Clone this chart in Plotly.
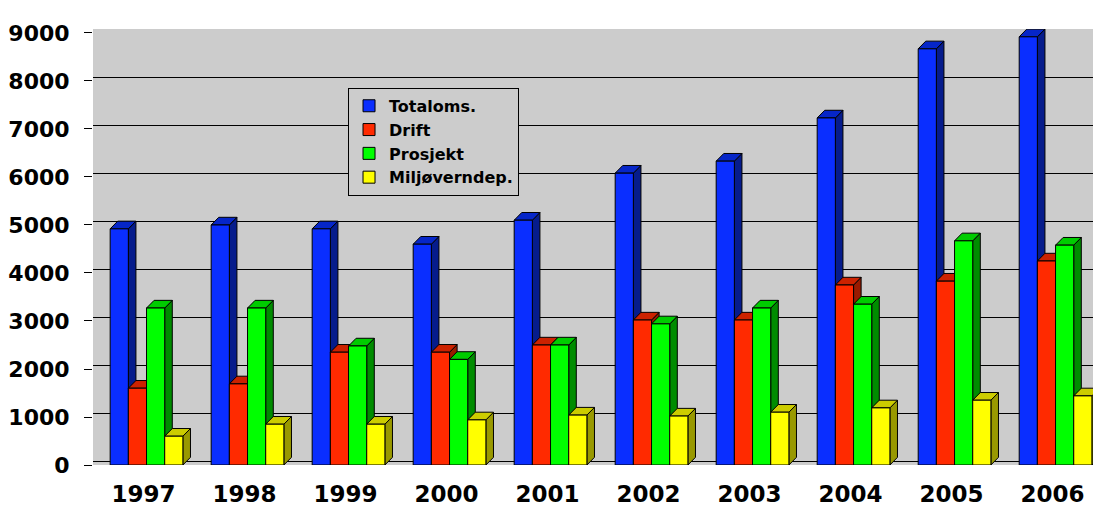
import plotly.graph_objects as go

years = ["1997", "1998", "1999", "2000", "2001", "2002", "2003", "2004", "2005", "2006"]
totaloms = [4920, 5000, 4920, 4600, 5100, 6080, 6330, 7230, 8670, 8920]
drift = [1600, 1690, 2350, 2350, 2500, 3020, 3020, 3750, 3830, 4250]
prosjekt = [3270, 3270, 2480, 2200, 2500, 2940, 3270, 3350, 4670, 4580]
miljo = [600, 850, 850, 940, 1040, 1020, 1100, 1190, 1350, 1440]
y_ticks = [0, 1000, 2000, 3000, 4000, 5000, 6000, 7000, 8000, 9000]

series = [
    ("Totaloms.", totaloms, "#0A2EFF", "#0626C8", "#061C8C"),
    ("Drift", drift, "#FF2A00", "#CC2200", "#991A00"),
    ("Prosjekt", prosjekt, "#00FF00", "#00CC00", "#008C00"),
    ("Miljøverndep.", miljo, "#FFFF00", "#CCCC00", "#999900"),
]

FONT = "Arial, Liberation Sans, sans-serif"
TICKFONT = "DejaVu Sans, Verdana, sans-serif"
W = 0.18
starts = [-0.33, -0.15, 0.03, 0.21]
DX = 0.075
DY = 160

xs = list(range(len(years)))
fig = go.Figure()

for k, (name, vals, front, top, side) in enumerate(series):
    off = starts[k]
    sx, sy, tx, ty = [], [], [], []
    for i, v in enumerate(vals):
        l = i + off
        r = l + W
        sx += [r, r + DX, r + DX, r, r, None]
        sy += [0, DY, v + DY, v, 0, None]
        tx += [l, r, r + DX, l + DX, l, None]
        ty += [v, v, v + DY, v + DY, v, None]
    fig.add_trace(go.Scatter(x=sx, y=sy, fill="toself", fillcolor=side, mode="lines",
                             line=dict(color="black", width=1), showlegend=False,
                             hoverinfo="skip", zorder=3 * k))
    fig.add_trace(go.Scatter(x=tx, y=ty, fill="toself", fillcolor=top, mode="lines",
                             line=dict(color="black", width=1), showlegend=False,
                             hoverinfo="skip", zorder=3 * k + 1))
    fig.add_trace(go.Bar(x=xs, y=vals, width=W, offset=off, name=name,
                         marker=dict(color=front, line=dict(color="black", width=1)),
                         zorder=3 * k + 2))

# page has an 8px body margin, so the figure is 16px smaller and margins shifted
fig.update_layout(
    width=1093, height=503,
    margin=dict(l=85, r=0, t=21, b=46, autoexpand=False),
    paper_bgcolor="white",
    plot_bgcolor="#CCCCCC",
    barmode="overlay",
    font=dict(family=FONT, color="black"),
    legend=dict(x=0.253, y=0.865, xanchor="left", yanchor="top",
                bgcolor="#CCCCCC", bordercolor="black", borderwidth=1,
                font=dict(family=TICKFONT, size=16, color="black", weight="bold"),
                traceorder="normal", entrywidth=150, entrywidthmode="pixels"),
    xaxis=dict(range=[-0.5, 9.48], tickvals=xs, ticktext=years, showgrid=False,
               zeroline=False, showline=True, linecolor="#808080", linewidth=3,
               tickfont=dict(family=TICKFONT, size=23, color="black", weight="bold"),
               ticks="", ticklabelstandoff=6, automargin=False),
    yaxis=dict(range=[0, 9083], tickvals=y_ticks, showgrid=False, zeroline=False,
               showline=True, linecolor="black", linewidth=1,
               ticks="outside", ticklen=8, tickcolor="black", automargin=False,
               ticklabelstandoff=10,
               tickfont=dict(family=TICKFONT, size=22, color="black", weight="bold")),
    yaxis2=dict(range=[-83, 9000], overlaying="y", tickvals=y_ticks, showgrid=True,
                gridcolor="black", gridwidth=1, showticklabels=False, zeroline=False,
                side="left", automargin=False),
)
# invisible trace to activate the gridline axis
fig.add_trace(go.Scatter(x=[0], y=[0], yaxis="y2", mode="markers",
                         marker=dict(opacity=0), showlegend=False, hoverinfo="skip"))

fig.write_html("out.html")
